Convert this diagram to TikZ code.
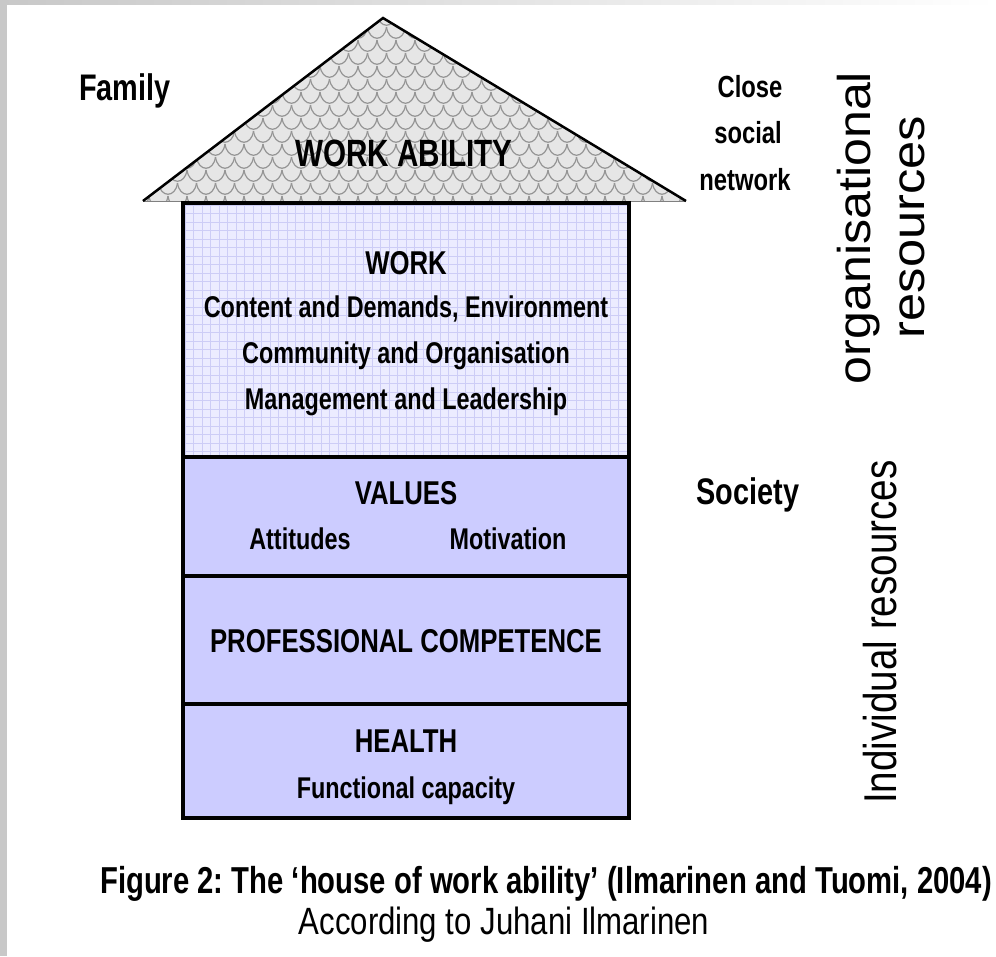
\documentclass[tikz,border=0pt]{standalone}
\usepackage{fontspec}
\setmainfont{Liberation Sans}
\newfontfamily\narrowfont[FakeStretch=0.78]{Liberation Sans}
\newfontfamily\subfont[FakeStretch=0.82]{Liberation Sans}
\definecolor{lav}{HTML}{CCCCFF}
\definecolor{lavlight}{HTML}{ECECFF}
\definecolor{gridc}{HTML}{CDCDF6}
\definecolor{roofc}{HTML}{E6E6E6}
\definecolor{scalec}{HTML}{959595}
\definecolor{framec}{HTML}{C8C8C8}
\tikzset{
  headtxt/.style={font=\narrowfont\bfseries\fontsize{33}{38}\selectfont, inner sep=0pt, anchor=base},
  boxtxt/.style={font=\narrowfont\bfseries\fontsize{30}{36}\selectfont, inner sep=0pt, anchor=base},
  rooftxt/.style={font=\narrowfont\bfseries\fontsize{38}{42}\selectfont, inner sep=0pt, anchor=base},
  sidetxt/.style={font=\narrowfont\bfseries\fontsize{30.5}{36}\selectfont, inner sep=0pt, anchor=base},
  bigside/.style={font=\narrowfont\bfseries\fontsize{37}{42}\selectfont, inner sep=0pt, anchor=base},
  verttxt/.style={font=\fontsize{46}{50}\selectfont, inner sep=0pt, rotate=90, anchor=center},
  captxt/.style={font=\narrowfont\bfseries\fontsize{37.5}{42}\selectfont, inner sep=0pt, anchor=base},
  subtxt/.style={font=\subfont\fontsize{38}{42}\selectfont, inner sep=0pt, anchor=base},
  housebox/.style={draw=black, line width=4.5pt},
  divider/.style={draw=black, line width=4pt},
}
\frenchspacing
\begin{document}
\begin{tikzpicture}[x=1pt,y=-1pt]
\useasboundingbox (0,0) rectangle (996,956);
\fill[white] (0,0) rectangle (996,956);
% frame strips
\shade[left color=framec, right color=white] (0,0) rectangle (996,4);
\fill[framec] (0,0) rectangle (7,956);

% roof
\fill[roofc] (383,18) -- (686,201) -- (143,201) -- cycle;
\begin{scope}
  \clip (383,18) -- (686,201) -- (143,201) -- cycle;
  \foreach \j in {0,...,14}{
    \foreach \i in {0,...,29}{
      \draw[scalec, line width=1.2pt]
        ({130+\i*19+mod(\j,2)*9.5},{14+\j*13})
        .. controls ({130+\i*19+mod(\j,2)*9.5+2},{14+\j*13+15}) and ({130+\i*19+mod(\j,2)*9.5+17},{14+\j*13+15})
        .. ({149+\i*19+mod(\j,2)*9.5},{14+\j*13});
    }
  }
\end{scope}
\draw[gray, line width=1pt] (143,201) -- (686,201);
\draw[black, line width=2.5pt, line join=miter] (143,201) -- (383,18) -- (686,201);

% work box with grid
\fill[lavlight] (183,203) rectangle (629,457);
\begin{scope}
  \clip (183,203) rectangle (629,457);
  \foreach \k in {0,...,53}{
    \draw[gridc, line width=0.9pt] ({185+\k*8.5},203) -- ({185+\k*8.5},457);
  }
  \foreach \k in {0,...,30}{
    \draw[gridc, line width=0.9pt] (183,{205+\k*8.5}) -- (629,{205+\k*8.5});
  }
\end{scope}
% lower boxes
\fill[lav] (183,457) rectangle (629,818);
\draw[divider] (183,457) -- (629,457);
\draw[divider] (183,576) -- (629,576);
\draw[divider] (183,704) -- (629,704);
\draw[housebox] (183,203) rectangle (629,818);

% texts in house
\node[rooftxt] (workability) at (404,166) {WORK ABILITY};
\node[headtxt] (work) at (406,274) {WORK};
\node[boxtxt] (content) at (406,317) {Content and Demands, Environment};
\node[boxtxt] (community) at (406,363) {Community and Organisation};
\node[boxtxt] (management) at (406,409) {Management and Leadership};
\node[headtxt] (values) at (406,504) {VALUES};
\node[boxtxt] (attitudes) at (300,549) {Attitudes};
\node[boxtxt] (motivation) at (508,549) {Motivation};
\node[headtxt] (professional) at (406,652) {PROFESSIONAL COMPETENCE};
\node[headtxt] (health) at (406,752) {HEALTH};
\node[boxtxt] (functional) at (406,798) {Functional capacity};

% side labels
\node[bigside] (family) at (125,100) {Family};
\node[sidetxt] (close) at (750,97) {Close};
\node[sidetxt] (social) at (748,143) {social};
\node[sidetxt] (network) at (745,190) {network};
\node[bigside] (society) at (748,504) {Society};

% vertical labels
\node[verttxt] (organisational) at (859,228) {\scalebox{1.09}[1]{organisational}};
\node[verttxt] (resources) at (912,227) {\scalebox{1.1}[1]{resources}};
\node[verttxt] (individual) at (880,632) {\scalebox{0.84}[1]{Individual resources}};

% caption
\node[captxt] (caption) at (546,893) {Figure 2: The ‘house of work ability’ (Ilmarinen and Tuomi, 2004)};
\node[subtxt] (according) at (504,934) {According to Juhani Ilmarinen};
\end{tikzpicture}
\end{document}
